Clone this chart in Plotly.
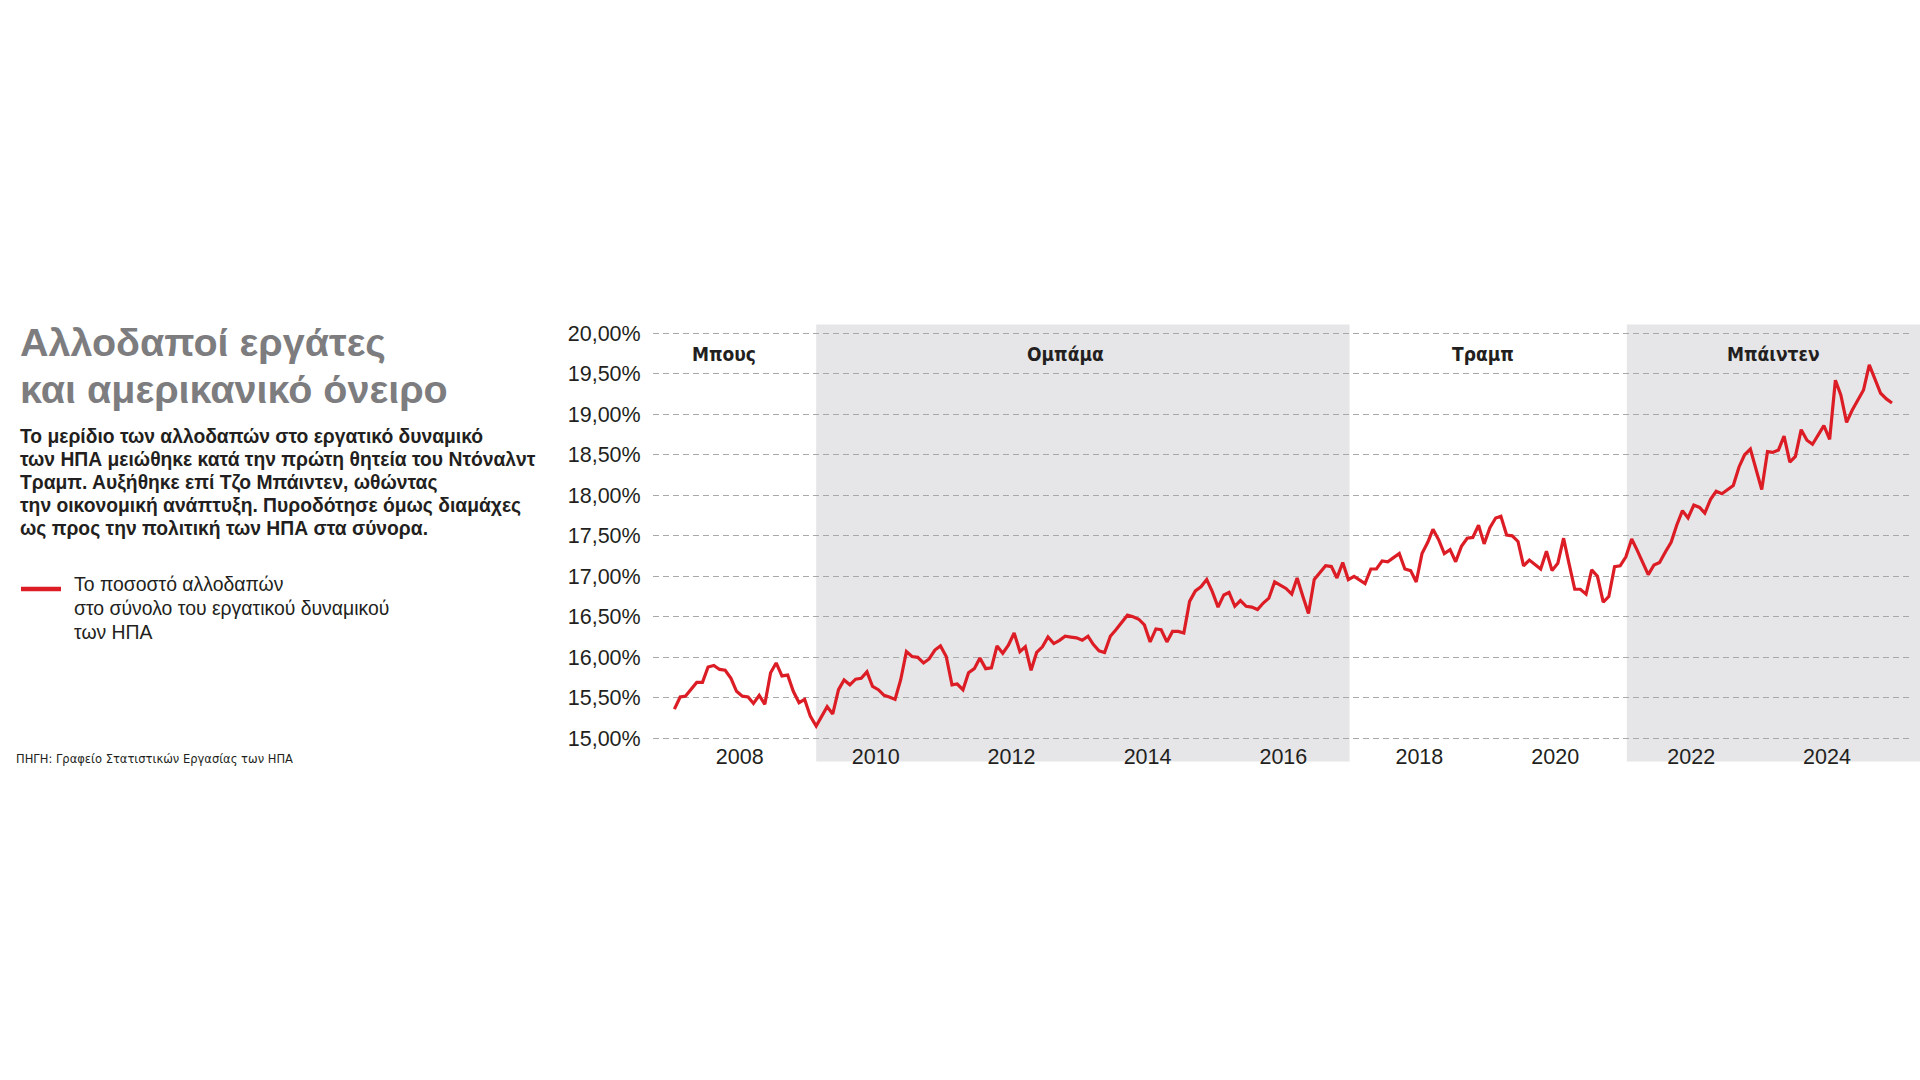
import pandas as pd
import plotly.graph_objects as go

# ---------------- data ----------------
start_month = "2007-01-01"
end_month = "2024-12-01"
# monthly observations, plotted at mid-month
months = pd.date_range(start_month, end_month, freq="MS") + pd.Timedelta(days=14)

foreign_share = [
    15.36, 15.51, 15.52, 15.60, 15.69, 15.69, 15.88, 15.90, 15.85, 15.84, 15.74, 15.58,
    15.52, 15.51, 15.43, 15.53, 15.42, 15.81, 15.93, 15.77, 15.78, 15.58, 15.44, 15.48,
    15.27, 15.15, 15.27, 15.39, 15.30, 15.60, 15.72, 15.66, 15.73, 15.74, 15.82, 15.64,
    15.60, 15.53, 15.51, 15.48, 15.72, 16.07, 16.01, 16.00, 15.93, 15.98, 16.09, 16.14,
    16.01, 15.66, 15.67, 15.60, 15.81, 15.86, 15.99, 15.86, 15.87, 16.14, 16.05, 16.15,
    16.30, 16.07, 16.13, 15.84, 16.06, 16.13, 16.25, 16.17, 16.21, 16.26, 16.25, 16.24,
    16.21, 16.26, 16.16, 16.08, 16.06, 16.26, 16.34, 16.43, 16.52, 16.50, 16.47, 16.40,
    16.19, 16.35, 16.34, 16.19, 16.32, 16.32, 16.30, 16.69, 16.82, 16.87, 16.96, 16.81,
    16.62, 16.77, 16.80, 16.63, 16.70, 16.63, 16.62, 16.59, 16.67, 16.73, 16.93, 16.89,
    16.85, 16.78, 16.98, 16.75, 16.54, 16.96, 17.04, 17.13, 17.12, 16.98, 17.17, 16.96,
    17.00, 16.95, 16.91, 17.09, 17.09, 17.19, 17.18, 17.23, 17.28, 17.09, 17.07, 16.93,
    17.28, 17.42, 17.58, 17.45, 17.28, 17.33, 17.18, 17.37, 17.47, 17.48, 17.63, 17.40,
    17.60, 17.72, 17.74, 17.51, 17.50, 17.43, 17.13, 17.20, 17.15, 17.09, 17.31, 17.07,
    17.16, 17.47, 17.16, 16.84, 16.84, 16.78, 17.08, 17.00, 16.68, 16.75, 17.12, 17.13,
    17.24, 17.46, 17.33, 17.17, 17.02, 17.14, 17.17, 17.30, 17.42, 17.63, 17.81, 17.72,
    17.88, 17.85, 17.78, 17.95, 18.05, 18.02, 18.07, 18.12, 18.35, 18.50, 18.57, 18.31,
    18.07, 18.54, 18.53, 18.56, 18.73, 18.41, 18.48, 18.81, 18.68, 18.63, 18.74, 18.86,
    18.69, 19.42, 19.24, 18.90, 19.05, 19.17, 19.30, 19.61, 19.42, 19.26, 19.19, 19.14,
]

y_tick_values = [15.0, 15.5, 16.0, 16.5, 17.0, 17.5, 18.0, 18.5, 19.0, 19.5, 20.0]
y_tick_labels = ["15,00%", "15,50%", "16,00%", "16,50%", "17,00%", "17,50%",
                 "18,00%", "18,50%", "19,00%", "19,50%", "20,00%"]

presidents = ["Μπους", "Ομπάμα", "Τραμπ", "Μπάιντεν"]
president_label_dates = ["2007-10-06", "2012-10-15", "2018-12-08", "2023-03-20"]
shaded_terms = [("2009-02-15", "2016-12-22"), ("2021-01-20", "2025-04-07")]

title_lines = ["Αλλοδαποί εργάτες", "και αμερικανικό όνειρο"]
subtitle_lines = ["Το μερίδιο των αλλοδαπών στο εργατικό δυναμικό",
                  "των ΗΠΑ μειώθηκε κατά την πρώτη θητεία του Ντόναλντ",
                  "Τραμπ. Αυξήθηκε επί Τζο Μπάιντεν, ωθώντας",
                  "την οικονομική ανάπτυξη. Πυροδότησε όμως διαμάχες",
                  "ως προς την πολιτική των ΗΠΑ στα σύνορα."]
legend_lines = ["Το ποσοστό αλλοδαπών", "στο σύνολο του εργατικού δυναμικού", "των ΗΠΑ"]
source_text = "ΠΗΓΗ: Γραφείο Στατιστικών Εργασίας των ΗΠΑ"

# ---------------- layout geometry ----------------
W, H = 1920, 1080
L, R, T, B = 653, 1913, 331, 741
X_RANGE = ["2006-09-22", "2025-04-07"]
Y_RANGE = [14.9667, 20.0284]


def px_x(px):
    return (px - L) / (R - L)


def px_y(py):
    return (B - py) / (B - T)


RED = "#dc1d25"
SHADE = "#e6e6e8"
TEXT = "#231f20"
BASE_FONT = "Liberation Sans, Arial, sans-serif"
COND_FONT = "DejaVu Sans Condensed, Liberation Sans, sans-serif"

fig = go.Figure()
fig.add_trace(go.Scatter(
    x=months, y=foreign_share, mode="lines",
    name="Το ποσοστό αλλοδαπών στο σύνολο του εργατικού δυναμικού των ΗΠΑ",
    line=dict(color=RED, width=3.2), showlegend=False, hoverinfo="skip",
))

shapes = []
for x0, x1 in shaded_terms:
    shapes.append(dict(type="rect", xref="x", yref="paper", x0=x0, x1=x1,
                       y0=px_y(761.6), y1=px_y(324.5), fillcolor=SHADE,
                       line=dict(width=0), layer="below"))
# last term continues to the page edge
shapes.append(dict(type="rect", xref="paper", yref="paper", x0=1.0, x1=px_x(1920),
                   y0=px_y(761.6), y1=px_y(324.5), fillcolor=SHADE,
                   line=dict(width=0), layer="below"))
# legend swatch
shapes.append(dict(type="line", xref="paper", yref="paper", x0=px_x(21), x1=px_x(61),
                   y0=px_y(589), y1=px_y(589), line=dict(color=RED, width=4.5)))

annotations = []
for name, d in zip(presidents, president_label_dates):
    annotations.append(dict(x=d, y=19.745, xref="x", yref="y", text=name, showarrow=False,
                            font=dict(family=COND_FONT, size=19, color=TEXT, weight="bold"),
                            xanchor="center", yanchor="middle"))


def add_lines(lines, x_px, y_centers, size, color, weight, family=BASE_FONT):
    for line, yc in zip(lines, y_centers):
        annotations.append(dict(x=px_x(x_px), y=px_y(yc), xref="paper", yref="paper",
                                text=line, showarrow=False, align="left",
                                xanchor="left", yanchor="middle",
                                font=dict(family=family, size=size, color=color,
                                          weight=weight)))


add_lines(title_lines, 18, [341.5, 388.5], 39.5, "#7d7d7f", "bold")
add_lines(subtitle_lines, 18, [436, 459.3, 482.6, 505.9, 529.2], 19.3, TEXT, "bold")
add_lines(legend_lines, 72, [584, 607.5, 631.5], 19.4, TEXT, "normal")
add_lines([source_text], 14, [758], 12.8, TEXT, "normal", family=COND_FONT)

fig.update_layout(
    width=W, height=H, autosize=False,
    margin=dict(l=L, r=W - R, t=T, b=H - B, pad=0),
    paper_bgcolor="white", plot_bgcolor="rgba(0,0,0,0)",
    shapes=shapes, annotations=annotations,
    font=dict(family=BASE_FONT, color=TEXT),
)
fig.update_xaxes(
    type="date", range=X_RANGE, tick0="2008-01-01", dtick="M24", tickformat="%Y",
    showgrid=False, zeroline=False, showline=False,
    ticks="", ticklabelstandoff=0,
    tickfont=dict(family=BASE_FONT, size=21.5, color=TEXT),
)
fig.update_yaxes(
    range=Y_RANGE, tickvals=y_tick_values, ticktext=y_tick_labels,
    showgrid=True, gridcolor="#a9a9a9", gridwidth=1.3, griddash="6px,4px",
    zeroline=False, showline=False,
    ticks="outside", ticklen=7, tickcolor="rgba(0,0,0,0)",
    tickfont=dict(family=BASE_FONT, size=21.5, color=TEXT),
)

fig.write_html("out.html", config={"displayModeBar": False},
               post_script="document.body.style.margin='0px';document.body.style.overflow='hidden';")
